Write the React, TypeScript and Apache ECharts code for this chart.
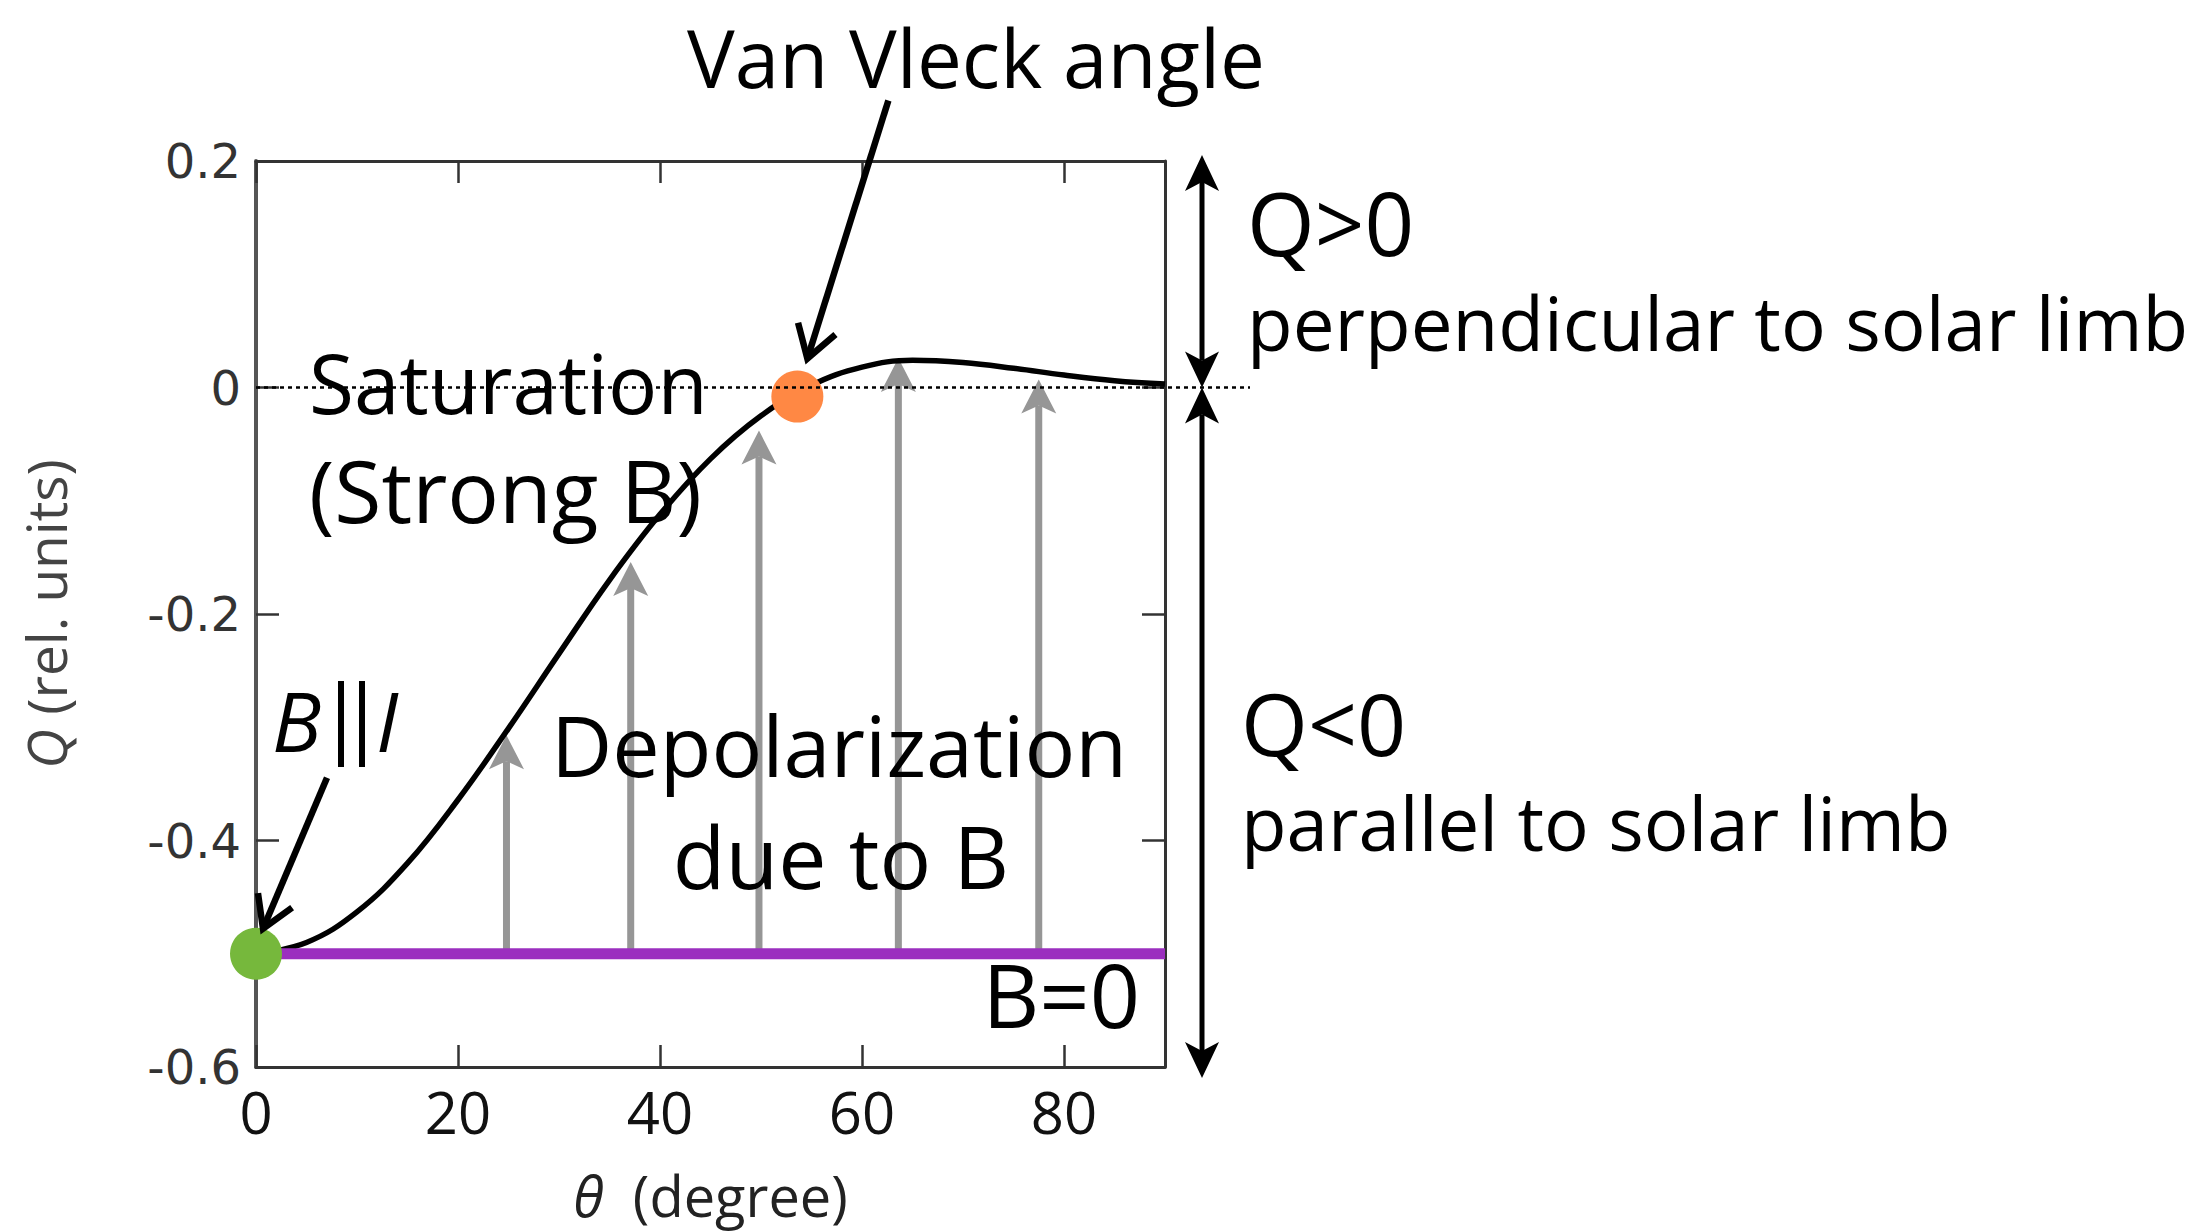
import React, { useEffect, useRef } from "react";
import * as echarts from "echarts";

// ---- data ----
const thetaCurve = [0, 5, 10, 15, 20, 25, 30, 35, 40, 45, 50, 55, 60, 65, 70, 75, 80, 85, 90];
const qCurve = [-0.5, -0.49, -0.463, -0.42, -0.364, -0.301, -0.235, -0.17, -0.112, -0.063, -0.025, 0.002, 0.018, 0.024, 0.022, 0.017, 0.011, 0.006, 0.003];
const bZeroTheta = [0, 90];
const bZeroQ = [-0.5, -0.5];
const arrowTheta = [24.8, 37.1, 49.8, 63.6, 77.5];
const arrowTipQ = [-0.307, -0.154, -0.038, 0.026, 0.007];
const arrowBaseQ = -0.5;
const dotTheta = [0, 53.6];
const dotQ = [-0.5, -0.008];
const dotColors = ["#76b83c", "#ff8844"];
const xMin = 0, xMax = 90, xStep = 20;
const yMin = -0.6, yMax = 0.2, yStep = 0.2;

const TXT = "Open Sans";

function notchedHead(tip: number[], dir: number[], L: number, W: number, N: number) {
  const [dx, dy] = dir;
  const nx = -dy, ny = dx;
  const bx = tip[0] - dx * L, by = tip[1] - dy * L;
  return [
    [tip[0], tip[1]],
    [bx + (nx * W) / 2, by + (ny * W) / 2],
    [tip[0] - dx * (L - N), tip[1] - dy * (L - N)],
    [bx - (nx * W) / 2, by - (ny * W) / 2],
  ];
}
function openHead(tip: number[], dir: number[], L: number, angDeg: number) {
  const back = Math.atan2(-dir[1], -dir[0]);
  const a = (angDeg * Math.PI) / 180;
  return [
    [tip[0] + L * Math.cos(back + a), tip[1] + L * Math.sin(back + a)],
    [tip[0], tip[1]],
    [tip[0] + L * Math.cos(back - a), tip[1] + L * Math.sin(back - a)],
  ];
}
function unit(a: number[], b: number[]) {
  const dx = b[0] - a[0], dy = b[1] - a[1];
  const l = Math.hypot(dx, dy);
  return [dx / l, dy / l];
}

export default function App() {
  const ref = useRef<HTMLDivElement>(null);
  useEffect(() => {
    if (!ref.current) return;
    const chart = echarts.init(ref.current, undefined, { renderer: "svg" });
    const axisDark = "#333";
    const option: any = {
      animation: false,
      backgroundColor: "#fff",
      grid: { left: 256, top: 161, width: 909, height: 906, containLabel: false },
      xAxis: [
        {
          type: "value", position: "bottom", min: xMin, max: xMax, interval: xStep,
          axisLine: { show: true, onZero: false, lineStyle: { color: axisDark, width: 3 } },
          axisTick: { show: true, inside: true, length: 22, lineStyle: { color: axisDark, width: 2.5 } },
          axisLabel: { showMaxLabel: false, fontFamily: TXT, fontSize: 58, color: "#111", margin: 15 },
          splitLine: { show: false },
          name: "{t|θ}  (degree)", nameLocation: "middle", nameGap: 100,
          nameTextStyle: { fontFamily: TXT, fontSize: 56, color: "#222",
            rich: { t: { fontFamily: TXT, fontSize: 56, fontStyle: "italic", color: "#222" } } },
        },
        {
          type: "value", position: "top", min: xMin, max: xMax, interval: xStep,
          axisLine: { show: true, onZero: false, lineStyle: { color: axisDark, width: 3 } },
          axisTick: { show: true, inside: true, length: 22, lineStyle: { color: axisDark, width: 2.5 } },
          axisLabel: { show: false }, splitLine: { show: false },
        },
      ],
      yAxis: [
        {
          type: "value", position: "left", min: yMin, max: yMax, interval: yStep,
          axisLine: { show: true, onZero: false, lineStyle: { color: "#555", width: 4 } },
          axisTick: { show: true, inside: true, length: 23, lineStyle: { color: axisDark, width: 2.5 } },
          axisLabel: { fontFamily: "DejaVu Sans", fontSize: 48, color: "#333", margin: 15 },
          splitLine: { show: false },
          name: "{q|Q} (rel. units)", nameLocation: "middle", nameGap: 183, nameRotate: 90,
          nameTextStyle: { fontFamily: TXT, fontSize: 55, color: "#444",
            rich: { q: { fontFamily: TXT, fontSize: 55, fontStyle: "italic", color: "#444" } } },
        },
        {
          type: "value", position: "right", min: yMin, max: yMax, interval: yStep,
          axisLine: { show: true, onZero: false, lineStyle: { color: axisDark, width: 3 } },
          axisTick: { show: true, inside: true, length: 23, lineStyle: { color: axisDark, width: 2.5 } },
          axisLabel: { show: false }, splitLine: { show: false },
        },
      ],
      series: [
        {
          type: "custom", xAxisIndex: 0, yAxisIndex: 0, z: 1, silent: true, clip: false,
          data: arrowTheta.map((t, i) => [t, arrowBaseQ, arrowTipQ[i]]),
          renderItem: (_p: any, api: any) => {
            const base = api.coord([api.value(0), api.value(1)]);
            const tip = api.coord([api.value(0), api.value(2)]);
            const L = 34, W = 35, N = 8;
            return {
              type: "group",
              children: [
                { type: "line", shape: { x1: base[0], y1: base[1], x2: tip[0], y2: tip[1] + L - N }, style: { stroke: "#969696", lineWidth: 7 } },
                { type: "polygon", shape: { points: notchedHead(tip, [0, -1], L, W, N) }, style: { fill: "#969696" } },
              ],
            };
          },
        },
        {
          type: "line", xAxisIndex: 0, yAxisIndex: 0, z: 3, smooth: 0.4, symbol: "none", silent: true,
          data: thetaCurve.map((t, i) => [t, qCurve[i]]),
          lineStyle: { color: "#000", width: 5.5 },
        },
        {
          type: "line", xAxisIndex: 0, yAxisIndex: 0, z: 4, symbol: "none", silent: true,
          data: bZeroTheta.map((t, i) => [t, bZeroQ[i]]),
          lineStyle: { color: "#9b2fbf", width: 11 },
        },
        {
          type: "scatter", xAxisIndex: 0, yAxisIndex: 0, z: 5, symbolSize: 52, clip: false, silent: true,
          data: dotTheta.map((t, i) => ({ value: [t, dotQ[i]], itemStyle: { color: dotColors[i], opacity: 1 } })),
        },
      ],
    };
    chart.setOption(option);

    const P = (v: number[]) => chart.convertToPixel({ xAxisIndex: 0, yAxisIndex: 0 }, v) as number[];
    const tr = P([xMax, yMax]);
    const bl = P([xMin, yMin]);
    const zero = P([xMin, 0]);
    const gridRight = tr[0], gridTop = tr[1], gridBottom = bl[1], zeroY = zero[1];

    const g: any[] = [];
    // dotted zero line extending beyond the frame
    g.push({ type: "line", z: 100, silent: true, shape: { x1: zero[0], y1: zeroY, x2: gridRight + 85, y2: zeroY },
      style: { stroke: "#000", lineWidth: 2.5, lineDash: [4, 4] } });

    // right double arrows
    const ax = gridRight + 37;
    const L = 36, W = 34, N = 9;
    const segs = [[gridTop - 6, zeroY], [zeroY, gridBottom + 11]];
    segs.forEach(([y1, y2]) => {
      g.push({ type: "line", z: 60, silent: true, shape: { x1: ax, y1: y1 + L - N, x2: ax, y2: y2 - (L - N) },
        style: { stroke: "#000", lineWidth: 5 } });
      g.push({ type: "polygon", z: 60, silent: true, shape: { points: notchedHead([ax, y1], [0, -1], L, W, N) }, style: { fill: "#000" } });
      g.push({ type: "polygon", z: 60, silent: true, shape: { points: notchedHead([ax, y2], [0, 1], L, W, N) }, style: { fill: "#000" } });
    });

    // Van Vleck arrow
    const orange = P([dotTheta[1], dotQ[1]]);
    const vTip = [orange[0] + 10, orange[1] - 38];
    const vStart = [vTip[0] + 81, vTip[1] - 258];
    const vDir = unit(vStart, vTip);
    g.push({ type: "line", z: 60, silent: true, shape: { x1: vStart[0], y1: vStart[1], x2: vTip[0] - vDir[0] * 3, y2: vTip[1] - vDir[1] * 3 },
      style: { stroke: "#000", lineWidth: 6.5 } });
    g.push({ type: "polyline", z: 60, silent: true, shape: { points: openHead(vTip, vDir, 37, 32) },
      style: { stroke: "#000", lineWidth: 6.5, fill: "none", lineJoin: "miter" } });

    // B||I arrow
    const green = P([dotTheta[0], dotQ[0]]);
    const bTip = [green[0] + 7, green[1] - 25];
    const bStart = [bTip[0] + 64, bTip[1] - 151];
    const bDir = unit(bStart, bTip);
    g.push({ type: "line", z: 60, silent: true, shape: { x1: bStart[0], y1: bStart[1], x2: bTip[0] - bDir[0] * 3, y2: bTip[1] - bDir[1] * 3 },
      style: { stroke: "#000", lineWidth: 6.5 } });
    g.push({ type: "polyline", z: 60, silent: true, shape: { points: openHead(bTip, bDir, 36, 31) },
      style: { stroke: "#000", lineWidth: 6.5, fill: "none", lineJoin: "miter" } });

    const text = (s: string, x: number, y: number, size: number, align: string, italic = false) => ({
      type: "text", z: 50, silent: true, x, y,
      style: { text: s, fill: "#000", fontFamily: TXT, fontSize: size, fontStyle: italic ? "italic" : "normal",
        align, verticalAlign: "middle" },
    });
    g.push(text("Van Vleck angle", 976, 56, 80, "center"));
    g.push(text("Saturation", 309, 382, 82, "left"));
    g.push(text("(Strong B)", 309, 489, 86, "left"));
    g.push(text("Depolarization", 839, 744, 84.5, "center"));
    g.push(text("due to B", 841, 855, 86, "center"));
    g.push(text("B=0", 1140, 994, 88, "right"));
    g.push(text("Q>0", 1247, 222, 87, "left"));
    g.push(text("perpendicular to solar limb", 1247, 322, 74.6, "left"));
    g.push(text("Q<0", 1241, 722, 86, "left"));
    g.push(text("parallel to solar limb", 1241, 822, 74.5, "left"));
    g.push(text("B", 272, 720, 82, "left", true));
    g.push(text("I", 376, 720, 82, "left", true));
    // the two parallel bars of B||I
    [341, 362].forEach((bx) => {
      g.push({ type: "line", z: 50, silent: true, shape: { x1: bx, y1: 681, x2: bx, y2: 767 }, style: { stroke: "#000", lineWidth: 6 } });
    });

    chart.setOption({ graphic: g });
    return () => chart.dispose();
  }, []);
  return (
    <div
      ref={ref}
      style={{ position: "absolute", left: 0, top: 0, width: "2195px", height: "1232px", background: "#fff" }}
    />
  );
}
